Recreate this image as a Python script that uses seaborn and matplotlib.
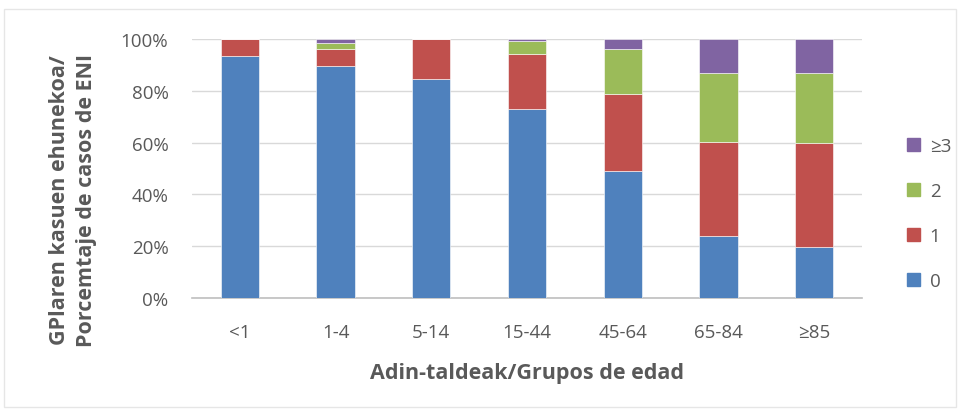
import matplotlib
matplotlib.use("Agg")
import matplotlib.pyplot as plt
import numpy as np
import pandas as pd
import seaborn as sns
from matplotlib.patches import Rectangle
from matplotlib.ticker import PercentFormatter

# Age groups and share of ENI cases (%) by number of GP cases
groups = ["<1", "1-4", "5-14", "15-44", "45-64", "65-84", "≥85"]
series_names = ["0", "1", "2", "≥3"]
pct_0 = [93.4, 89.6, 84.8, 73.2, 49.2, 24.1, 19.6]
pct_1 = [6.6, 6.7, 15.2, 21.0, 29.6, 36.3, 40.2]
pct_2 = [0.0, 2.3, 0.0, 5.1, 17.3, 26.5, 27.1]
pct_3 = [0.0, 1.4, 0.0, 0.7, 3.9, 13.1, 13.1]
colors = ["#4F81BD", "#C0504D", "#9BBB59", "#8064A2"]

sns.set_theme(style="white")
plt.rcParams["font.family"] = ["Open Sans", "DejaVu Sans"]

fig = plt.figure(figsize=(9.6, 4.1), dpi=100)
ax = fig.add_axes([0.2, 0.271, 0.698, 0.631])

df = pd.DataFrame({"group": groups, "0": pct_0, "1": pct_1, "2": pct_2, "≥3": pct_3})
bottom = np.zeros(len(groups))
for name, col in zip(series_names, colors):
    sns.barplot(data=df, x="group", y=name, color=col, bottom=bottom,
                width=0.4, ax=ax, edgecolor="white", linewidth=0.4,
                saturation=1, zorder=3)
    bottom = bottom + df[name].values

ax.set_ylim(0, 100)
ax.set_xlim(-0.5, len(groups) - 0.5)
ax.set_yticks(np.arange(0, 101, 20))
ax.yaxis.set_major_formatter(PercentFormatter(decimals=0))
ax.grid(axis="y", color="#D9D9D9", linewidth=1, zorder=0)
for s in ["top", "right", "left"]:
    ax.spines[s].set_visible(False)
ax.spines["bottom"].set_color("#BFBFBF")
ax.spines["bottom"].set_linewidth(1.2)
ax.tick_params(axis="both", length=0, labelsize=13.5, labelcolor="#595959")
ax.tick_params(axis="x", pad=18)
ax.tick_params(axis="y", pad=17)
ax.set_ylabel("")
ax.set_xlabel("Adin-taldeak/Grupos de edad", fontsize=15.5, fontweight="bold",
              color="#595959", labelpad=15)

fig.text(0.076, 0.512, "GPlaren kasuen ehunekoa/\nPorcemtaje de casos de ENI",
         rotation=90, ha="center", va="center", fontsize=15.5, fontweight="bold",
         color="#595959", linespacing=1.35)

handles = [Rectangle((0, 0), 1, 1, color=c) for c in colors][::-1]
leg = fig.legend(handles, series_names[::-1], loc="center left",
                 bbox_to_anchor=(0.945, 0.477), frameon=False, fontsize=13.5,
                 handlelength=0.7, handleheight=0.7, labelspacing=1.45,
                 handletextpad=0.5, borderpad=0, borderaxespad=0)
for t in leg.get_texts():
    t.set_color("#595959")

# Chart area border
fig.patches.append(Rectangle((0.004, 0.005), 0.992, 0.97, transform=fig.transFigure,
                             fill=False, edgecolor="#E6E6E6", linewidth=1))

fig.savefig("out.png", dpi=100)
